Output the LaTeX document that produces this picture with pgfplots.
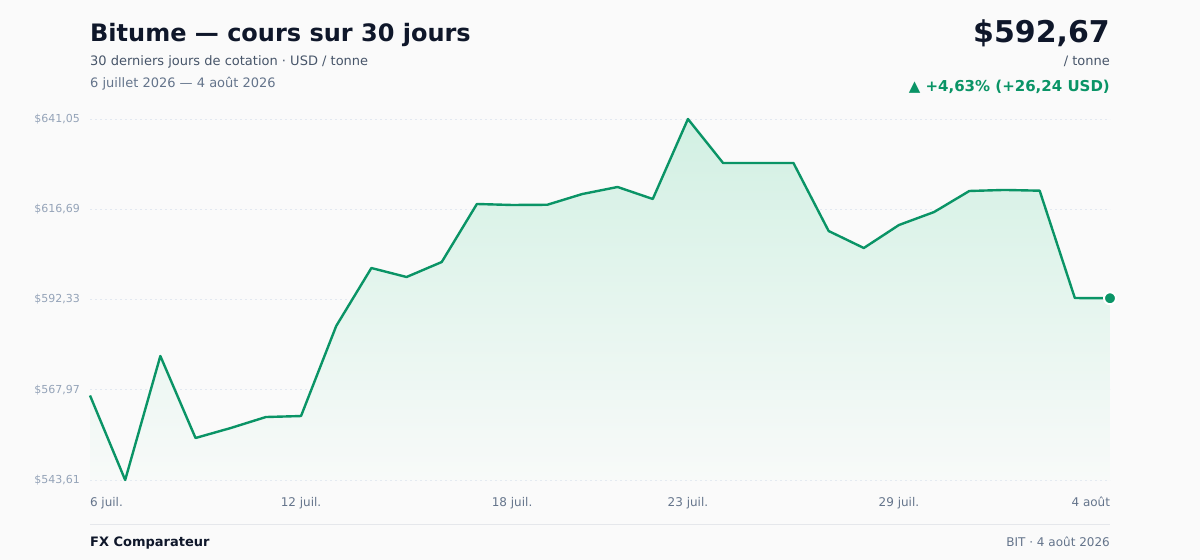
\documentclass[border=0pt]{standalone}
\usepackage{pgfplots}
\pgfplotsset{compat=1.18}
\usepackage{fontspec}
\setmainfont{DejaVu Sans}
\definecolor{bg}{HTML}{FAFAFA}
\definecolor{ttl}{HTML}{0F172A}
\definecolor{sub}{HTML}{475569}
\definecolor{muted}{HTML}{64748B}
\definecolor{ylab}{HTML}{94A3B8}
\definecolor{grn}{HTML}{0A9466}
\definecolor{gridc}{HTML}{E2E8F0}
\definecolor{rule}{HTML}{E5E7EB}
\definecolor{filltop}{HTML}{D2F0E3}
\definecolor{fillbot}{HTML}{F8FAF9}
\pgfplotstableread{
i v
0 566.43
1 543.61
2 577.08
3 554.95
4 557.64
5 560.61
6 560.88
7 585.18
8 600.83
9 598.40
10 602.45
11 618.11
12 617.84
13 617.90
14 620.81
15 622.70
16 619.46
17 641.05
18 629.17
19 629.17
20 629.17
21 610.82
22 606.23
23 612.44
24 615.95
25 621.62
26 621.90
27 621.70
28 592.73
29 592.67
}\prices
\pgfplotstableread{
i v
29 592.67
}\lastpt
\begin{document}
\begin{tikzpicture}[x=1bp,y=1bp]
\fill[bg] (0,0) rectangle (1200,-560);
\begin{axis}[
  at={(90bp,-480bp)}, anchor=south west,
  scale only axis, width=1020bp, height=361bp,
  xmin=0, xmax=29, ymin=543.61, ymax=641.05,
  clip=false,
  axis line style={draw=none},
  major tick length=0pt,
  /pgf/number format/assume math mode=true,
  ytick={543.61,567.97,592.33,616.69,641.05},
  yticklabels={{\$543,61},{\$567,97},{\$592,33},{\$616,69},{\$641,05}},
  yticklabel style={font=\fontsize{11bp}{13bp}\selectfont, text=ylab, anchor=east, inner sep=0pt, xshift=-10bp},
  xtick={0,6,12,17,23,29},
  xticklabels={\makebox[0pt][l]{6 juil.},12 juil.,18 juil.,23 juil.,29 juil.,\makebox[0pt][r]{4 août}},
  xticklabel style={font=\fontsize{12bp}{14bp}\selectfont, text=muted, anchor=base, inner sep=0pt, yshift=-26bp},
  ymajorgrids,
  major grid style={gridc, dash pattern=on 2bp off 3bp, line width=0.8bp},
  axis on top=false,
]
\addplot[draw=none, shading=axis, top color=filltop, bottom color=fillbot, forget plot] table[x=i,y=v]{\prices} \closedcycle;
\addplot[grn, line width=2.4bp, line join=round] table[x=i,y=v]{\prices};
\addplot[only marks, mark=*, mark size=6bp, mark options={fill=grn, draw=white, line width=2bp}] table[x=i,y=v]{\lastpt};
\end{axis}
\node[anchor=base west, inner sep=0pt, text=ttl] at (90,-42) {\fontsize{24bp}{28bp}\selectfont\bfseries Bitume — cours sur 30 jours};
\node[anchor=base west, inner sep=0pt, text=sub] at (90,-66) {\fontsize{13bp}{15bp}\selectfont 30 derniers jours de cotation · USD / tonne};
\node[anchor=base west, inner sep=0pt, text=muted] at (90,-88) {\fontsize{13bp}{15bp}\selectfont 6 juillet 2026 — 4 août 2026};
\node[anchor=base east, inner sep=0pt, text=ttl] at (1110,-43) {\fontsize{30bp}{34bp}\selectfont\bfseries \$592,67};
\node[anchor=base east, inner sep=0pt, text=sub] at (1110,-66) {\fontsize{13bp}{15bp}\selectfont / tonne};
\node[anchor=base east, inner sep=0pt, text=grn] at (1110,-92) {\fontsize{15bp}{17bp}\selectfont\bfseries ▲ +4,63\% (+26,24 USD)};
\draw[rule, line width=1bp] (90,-524) -- (1110,-524);
\node[anchor=base west, inner sep=0pt, text=ttl] at (90,-546) {\fontsize{13bp}{15bp}\selectfont\bfseries FX Comparateur};
\node[anchor=base east, inner sep=0pt, text=muted] at (1110,-546) {\fontsize{12bp}{14bp}\selectfont BIT · 4 août 2026};
\pgfresetboundingbox
\path[use as bounding box] (0,0) rectangle (1200,-560);
\end{tikzpicture}
\end{document}
